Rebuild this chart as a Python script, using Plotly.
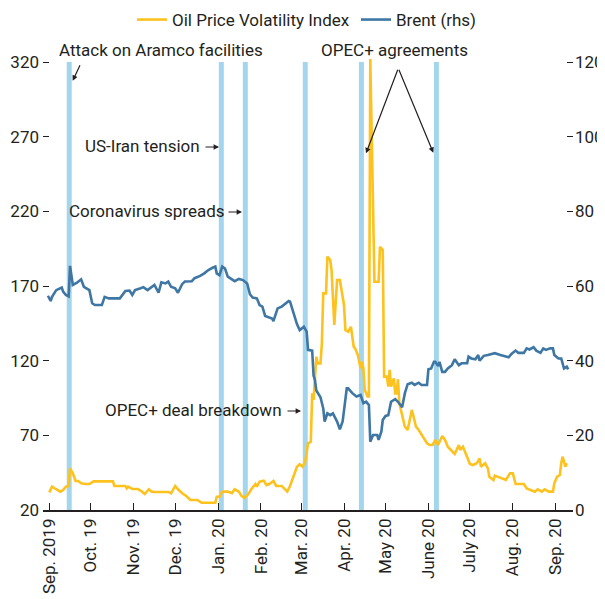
import datetime as dt
import plotly.graph_objects as go

# ---------------- data ----------------
brent_dates = [
    "2019-08-31", "2019-09-02", "2019-09-03", "2019-09-06", "2019-09-10", "2019-09-11", "2019-09-13",
    "2019-09-15", "2019-09-16", "2019-09-18", "2019-09-21", "2019-09-24", "2019-09-26", "2019-09-28",
    "2019-09-30", "2019-10-02", "2019-10-04", "2019-10-09", "2019-10-11", "2019-10-14", "2019-10-22",
    "2019-10-26", "2019-10-29", "2019-10-31", "2019-11-02", "2019-11-06", "2019-11-08", "2019-11-11",
    "2019-11-14", "2019-11-16", "2019-11-19", "2019-11-21", "2019-11-24", "2019-11-26", "2019-11-28",
    "2019-12-01", "2019-12-03", "2019-12-06", "2019-12-08", "2019-12-13", "2019-12-15", "2019-12-19",
    "2019-12-22", "2019-12-25", "2019-12-28", "2019-12-30", "2019-12-31", "2020-01-02", "2020-01-04",
    "2020-01-06", "2020-01-08", "2020-01-11", "2020-01-13", "2020-01-16", "2020-01-19", "2020-01-22",
    "2020-01-24", "2020-01-26", "2020-01-29", "2020-01-31", "2020-02-02", "2020-02-04", "2020-02-06",
    "2020-02-09", "2020-02-10", "2020-02-13", "2020-02-16", "2020-02-18", "2020-02-21", "2020-02-22",
    "2020-02-24", "2020-02-27", "2020-02-29", "2020-03-03", "2020-03-05", "2020-03-06", "2020-03-09",
    "2020-03-10", "2020-03-11", "2020-03-12", "2020-03-15", "2020-03-17", "2020-03-18", "2020-03-20",
    "2020-03-22", "2020-03-24", "2020-03-27", "2020-03-29", "2020-03-31", "2020-04-03", "2020-04-04",
    "2020-04-07", "2020-04-10", "2020-04-13", "2020-04-15", "2020-04-17", "2020-04-19", "2020-04-20",
    "2020-04-22", "2020-04-25", "2020-04-26", "2020-04-28", "2020-04-29", "2020-05-01", "2020-05-03",
    "2020-05-05", "2020-05-08", "2020-05-10", "2020-05-13", "2020-05-15", "2020-05-17", "2020-05-20",
    "2020-05-22", "2020-05-25", "2020-05-27", "2020-05-31", "2020-06-01", "2020-06-03", "2020-06-05",
    "2020-06-06", "2020-06-08", "2020-06-09", "2020-06-11", "2020-06-13", "2020-06-15", "2020-06-18",
    "2020-06-20", "2020-06-23", "2020-06-25", "2020-06-29", "2020-06-30", "2020-07-02", "2020-07-05",
    "2020-07-07", "2020-07-08", "2020-07-11", "2020-07-14", "2020-07-19", "2020-07-23", "2020-07-29",
    "2020-07-31", "2020-08-03", "2020-08-05", "2020-08-09", "2020-08-11", "2020-08-13", "2020-08-16",
    "2020-08-18", "2020-08-21", "2020-08-23", "2020-08-25", "2020-08-28", "2020-08-30", "2020-08-31",
    "2020-09-03", "2020-09-05", "2020-09-07", "2020-09-09", "2020-09-10",
]
brent_values = [
    57.4, 56.0, 57.1, 58.9, 59.6, 58.5, 57.6,
    57.2, 65.4, 60.3, 60.9, 61.8, 59.8, 59.4,
    58.9, 55.4, 54.9, 54.9, 57.1, 56.7, 56.7,
    58.7, 58.8, 57.6, 58.9, 59.4, 59.7, 58.9,
    59.6, 60.3, 58.2, 61.0, 60.7, 61.2, 59.8,
    59.4, 58.2, 60.5, 61.2, 61.3, 62.1, 62.7,
    63.4, 64.3, 64.9, 65.2, 63.4, 62.9, 65.2,
    64.7, 62.5, 61.9, 61.3, 61.9, 61.6, 60.7,
    57.8, 56.9, 56.7, 54.9, 54.5, 52.0, 51.8,
    51.3, 50.6, 54.0, 54.5, 55.1, 56.0, 55.8,
    53.1, 49.8, 48.2, 49.1, 47.8, 42.9, 42.7,
    36.0, 34.8, 32.0, 30.2, 27.2, 23.7, 25.9,
    25.4, 25.9, 23.7, 21.6, 23.7, 32.6, 32.6,
    31.3, 30.4, 30.8, 28.6, 29.0, 28.1, 18.3,
    20.1, 20.1, 18.8, 21.0, 24.1, 25.2, 25.4,
    29.0, 29.7, 29.0, 27.5, 31.3, 33.7, 34.1,
    33.5, 34.1, 33.5, 33.5, 37.7, 37.9, 39.7,
    39.7, 38.6, 39.7, 37.0, 37.0, 37.9, 38.8,
    40.4, 38.8, 39.3, 39.3, 41.1, 40.6, 40.4,
    41.5, 40.0, 41.3, 41.5, 42.0, 41.5, 40.9,
    41.8, 42.7, 42.1, 42.1, 43.3, 43.0, 43.6,
    42.7, 42.1, 43.3, 42.9, 43.3, 43.3, 41.5,
    40.6, 40.6, 37.9, 38.4, 37.7,
]

ovx_dates = [
    "2019-09-01", "2019-09-03", "2019-09-06", "2019-09-09", "2019-09-11", "2019-09-13", "2019-09-15",
    "2019-09-16", "2019-09-18", "2019-09-20", "2019-09-22", "2019-09-24", "2019-09-27", "2019-09-30",
    "2019-10-03", "2019-10-17", "2019-10-18", "2019-10-26", "2019-10-27", "2019-10-28", "2019-10-31",
    "2019-11-04", "2019-11-07", "2019-11-09", "2019-11-12", "2019-11-14", "2019-11-16", "2019-11-26",
    "2019-11-28", "2019-12-01", "2019-12-03", "2019-12-06", "2019-12-09", "2019-12-12", "2019-12-17",
    "2019-12-20", "2019-12-30", "2019-12-31", "2020-01-02", "2020-01-04", "2020-01-08", "2020-01-11",
    "2020-01-13", "2020-01-16", "2020-01-18", "2020-01-20", "2020-01-23", "2020-01-25", "2020-01-28",
    "2020-01-29", "2020-01-31", "2020-02-03", "2020-02-05", "2020-02-07", "2020-02-10", "2020-02-12",
    "2020-02-16", "2020-02-18", "2020-02-20", "2020-02-22", "2020-02-24", "2020-02-27", "2020-02-29",
    "2020-03-02", "2020-03-04", "2020-03-05", "2020-03-06", "2020-03-08", "2020-03-09", "2020-03-10",
    "2020-03-11", "2020-03-12", "2020-03-13", "2020-03-15", "2020-03-16", "2020-03-17", "2020-03-19",
    "2020-03-20", "2020-03-22", "2020-03-23", "2020-03-25", "2020-03-26", "2020-03-27", "2020-03-29",
    "2020-03-31", "2020-04-01", "2020-04-02", "2020-04-04", "2020-04-06", "2020-04-08", "2020-04-09",
    "2020-04-11", "2020-04-13", "2020-04-14", "2020-04-15", "2020-04-16", "2020-04-18", "2020-04-19",
    "2020-04-20", "2020-04-23", "2020-04-26", "2020-04-27", "2020-04-29", "2020-04-30", "2020-05-02",
    "2020-05-03", "2020-05-04", "2020-05-05", "2020-05-07", "2020-05-08", "2020-05-09", "2020-05-10",
    "2020-05-11", "2020-05-13", "2020-05-15", "2020-05-17", "2020-05-20", "2020-05-21", "2020-05-23",
    "2020-05-25", "2020-05-28", "2020-05-31", "2020-06-02", "2020-06-04", "2020-06-06", "2020-06-08",
    "2020-06-11", "2020-06-13", "2020-06-15", "2020-06-18", "2020-06-20", "2020-06-23", "2020-06-24",
    "2020-06-26", "2020-06-29", "2020-07-01", "2020-07-03", "2020-07-06", "2020-07-08", "2020-07-09",
    "2020-07-12", "2020-07-14", "2020-07-15", "2020-07-18", "2020-07-19", "2020-07-21", "2020-07-24",
    "2020-07-27", "2020-07-30", "2020-08-01", "2020-08-03", "2020-08-09", "2020-08-11", "2020-08-15",
    "2020-08-17", "2020-08-19", "2020-08-22", "2020-08-24", "2020-08-27", "2020-08-30", "2020-08-31",
    "2020-09-02", "2020-09-04", "2020-09-05", "2020-09-06", "2020-09-08", "2020-09-09",
]
ovx_values = [
    31.8, 35.6, 33.9, 32.3, 33.4, 35.6, 36.1,
    47.9, 44.6, 39.4, 39.4, 37.9, 37.4, 37.4,
    39.2, 39.2, 36.1, 36.1, 34.5, 35.6, 34.1,
    34.1, 32.3, 30.7, 33.9, 32.3, 32.1, 32.1,
    31.2, 36.1, 33.9, 31.2, 29.4, 26.7, 26.7,
    24.9, 24.9, 28.9, 28.9, 32.3, 32.3, 31.2,
    33.9, 32.3, 29.4, 28.2, 30.7, 33.9, 37.4,
    35.6, 39.0, 39.6, 36.7, 37.4, 39.4, 36.1,
    36.1, 34.5, 32.3, 36.1, 41.9, 49.0, 50.6,
    49.0, 52.3, 60.2, 64.7, 65.7, 98.1, 93.7,
    107.1, 122.7, 118.2, 118.2, 131.6, 165.1, 165.1,
    189.7, 187.4, 180.7, 143.9, 156.1, 174.0, 174.0,
    160.6, 157.3, 140.5, 139.4, 142.7, 129.4, 128.3,
    123.8, 114.9, 119.3, 114.9, 100.4, 96.0, 96.0,
    322.0, 172.9, 172.9, 196.3, 194.1, 109.3, 109.3,
    102.6, 113.8, 102.6, 108.2, 98.1, 98.1, 107.6,
    91.4, 82.5, 75.8, 73.6, 87.0, 83.6, 75.8,
    73.6, 68.7, 64.7, 63.5, 63.5, 66.9, 63.5,
    69.6, 66.9, 62.4, 59.0, 57.5, 63.5, 60.2,
    62.4, 55.7, 50.8, 50.1, 51.3, 54.6, 49.0,
    51.3, 47.9, 42.3, 40.1, 43.0, 42.3, 41.2,
    40.1, 44.6, 44.6, 37.4, 37.4, 34.5, 32.7,
    32.3, 33.9, 32.3, 33.9, 32.3, 32.3, 37.9,
    42.3, 43.4, 51.3, 55.7, 49.0, 51.3,
]

tick_dates = ["2019-09-01", "2019-10-01", "2019-11-01", "2019-12-01", "2020-01-01", "2020-02-01",
              "2020-03-01", "2020-04-01", "2020-05-01", "2020-06-01", "2020-07-01", "2020-08-01",
              "2020-09-01"]
tick_labels = ["Sep. 2019", "Oct. 19", "Nov. 19", "Dec. 19", "Jan. 20", "Feb. 20", "Mar. 20",
               "Apr. 20", "May 20", "June 20", "July 20", "Aug. 20", "Sep. 20"]

left_ticks = [20, 70, 120, 170, 220, 270, 320]
right_ticks = [0, 20, 40, 60, 80, 100, 120]

# event bar centres (date-times)
event_centres = ["2019-09-15 10:00", "2020-01-03 08:00", "2020-01-20 16:00",
                 "2020-03-04 00:00", "2020-04-13 14:00", "2020-06-06 19:00"]

# ---------------- style ----------------
FONT = "Roboto, Liberation Sans, sans-serif"
FS = 17
TXT = "#231f20"
ORANGE = "#FDC21E"
BLUE = "#3E76A4"
BAR = "#A3D6EC"
BAR_DAYS = 3.6

fig = go.Figure()
fig.add_trace(go.Scatter(x=ovx_dates, y=ovx_values, mode="lines", name="Oil Price Volatility Index",
                         line=dict(color=ORANGE, width=2.6), yaxis="y"))
fig.add_trace(go.Scatter(x=brent_dates, y=brent_values, mode="lines", name="Brent (rhs)",
                         line=dict(color=BLUE, width=2.6), yaxis="y2"))

half = dt.timedelta(days=BAR_DAYS / 2)
for c in event_centres:
    cd = dt.datetime.strptime(c, "%Y-%m-%d %H:%M")
    fig.add_shape(type="rect", xref="x", yref="y", x0=cd - half, x1=cd + half, y0=20, y1=320,
                  fillcolor=BAR, line=dict(width=0), layer="below")

# page offset (body margin) and plot-area geometry in figure px
OFF = 8
W, H = 605 - OFF, 599 - OFF
L, R, T, B = 43 - OFF, 573 - OFF, 57 - OFF, 510 - OFF
pw, ph = R - L, B - T


def px(x):
    return (x - OFF - L) / pw


def py(y):
    return (B - (y - OFF)) / ph


texts = [
    ("Attack on Aramco facilities", 160.5, 50, "center"),
    ("OPEC+ agreements", 394.4, 50, "center"),
    ("US-Iran tension", 202, 146, "right"),
    ("Coronavirus spreads", 227, 211, "right"),
    ("OPEC+ deal breakdown", 284, 410, "right"),
]
for t, x, y, anc in texts:
    fig.add_annotation(text=t, xref="paper", yref="paper", x=px(x), y=py(y), xanchor=anc,
                       yanchor="middle", showarrow=False, font=dict(family=FONT, size=FS, color=TXT))

arrows = [
    (72.7, 80.7, 8, -17),
    (366, 153.3, 32.3, -85),
    (433.3, 152.7, -35, -84.4),
    (219, 147, -15, 0),
    (242, 212, -15, 0),
    (301, 411, -15, 0),
]
for x, y, ax, ay in arrows:
    fig.add_annotation(text="", xref="paper", yref="paper", x=px(x), y=py(y), ax=ax, ay=ay,
                       showarrow=True, arrowhead=2, arrowsize=0.9, arrowwidth=1.2, arrowcolor=TXT)

fig.update_layout(
    width=W, height=H,
    margin=dict(l=L, r=W - R, t=T, b=H - B, autoexpand=False),
    paper_bgcolor="white", plot_bgcolor="white",
    font=dict(family=FONT, size=FS, color=TXT),
    showlegend=True,
    legend=dict(orientation="h", x=px(132), xanchor="left", y=py(20), yanchor="middle",
                entrywidth=179, entrywidthmode="pixels",
                font=dict(family=FONT, size=FS, color=TXT), itemwidth=30, bgcolor="rgba(0,0,0,0)"),
    xaxis=dict(type="date", range=["2019-08-27 11:00", "2020-09-13 12:00"],
               tickvals=tick_dates, ticktext=tick_labels, tickangle=-90,
               ticks="inside", ticklen=7, tickwidth=1.3, tickcolor=TXT, automargin=False,
               showline=True, linecolor=TXT, linewidth=1.5, showgrid=False, zeroline=False,
               tickfont=dict(family=FONT, size=FS, color=TXT)),
    yaxis=dict(range=[20, 323.4], tickvals=left_ticks, ticks="inside", ticklen=6, tickwidth=1.3,
               tickcolor=TXT, showline=False, showgrid=False, zeroline=False, automargin=False,
               ticklabelstandoff=3, tickfont=dict(family=FONT, size=FS, color=TXT)),
    yaxis2=dict(range=[0, 121.36], tickvals=right_ticks, overlaying="y", side="right",
                ticks="inside", ticklen=6, tickwidth=1.3, tickcolor=TXT, showline=False,
                showgrid=False, zeroline=False, automargin=False, ticklabelstandoff=1,
                tickfont=dict(family=FONT, size=FS, color=TXT)),
)

fig.write_html("out.html")
